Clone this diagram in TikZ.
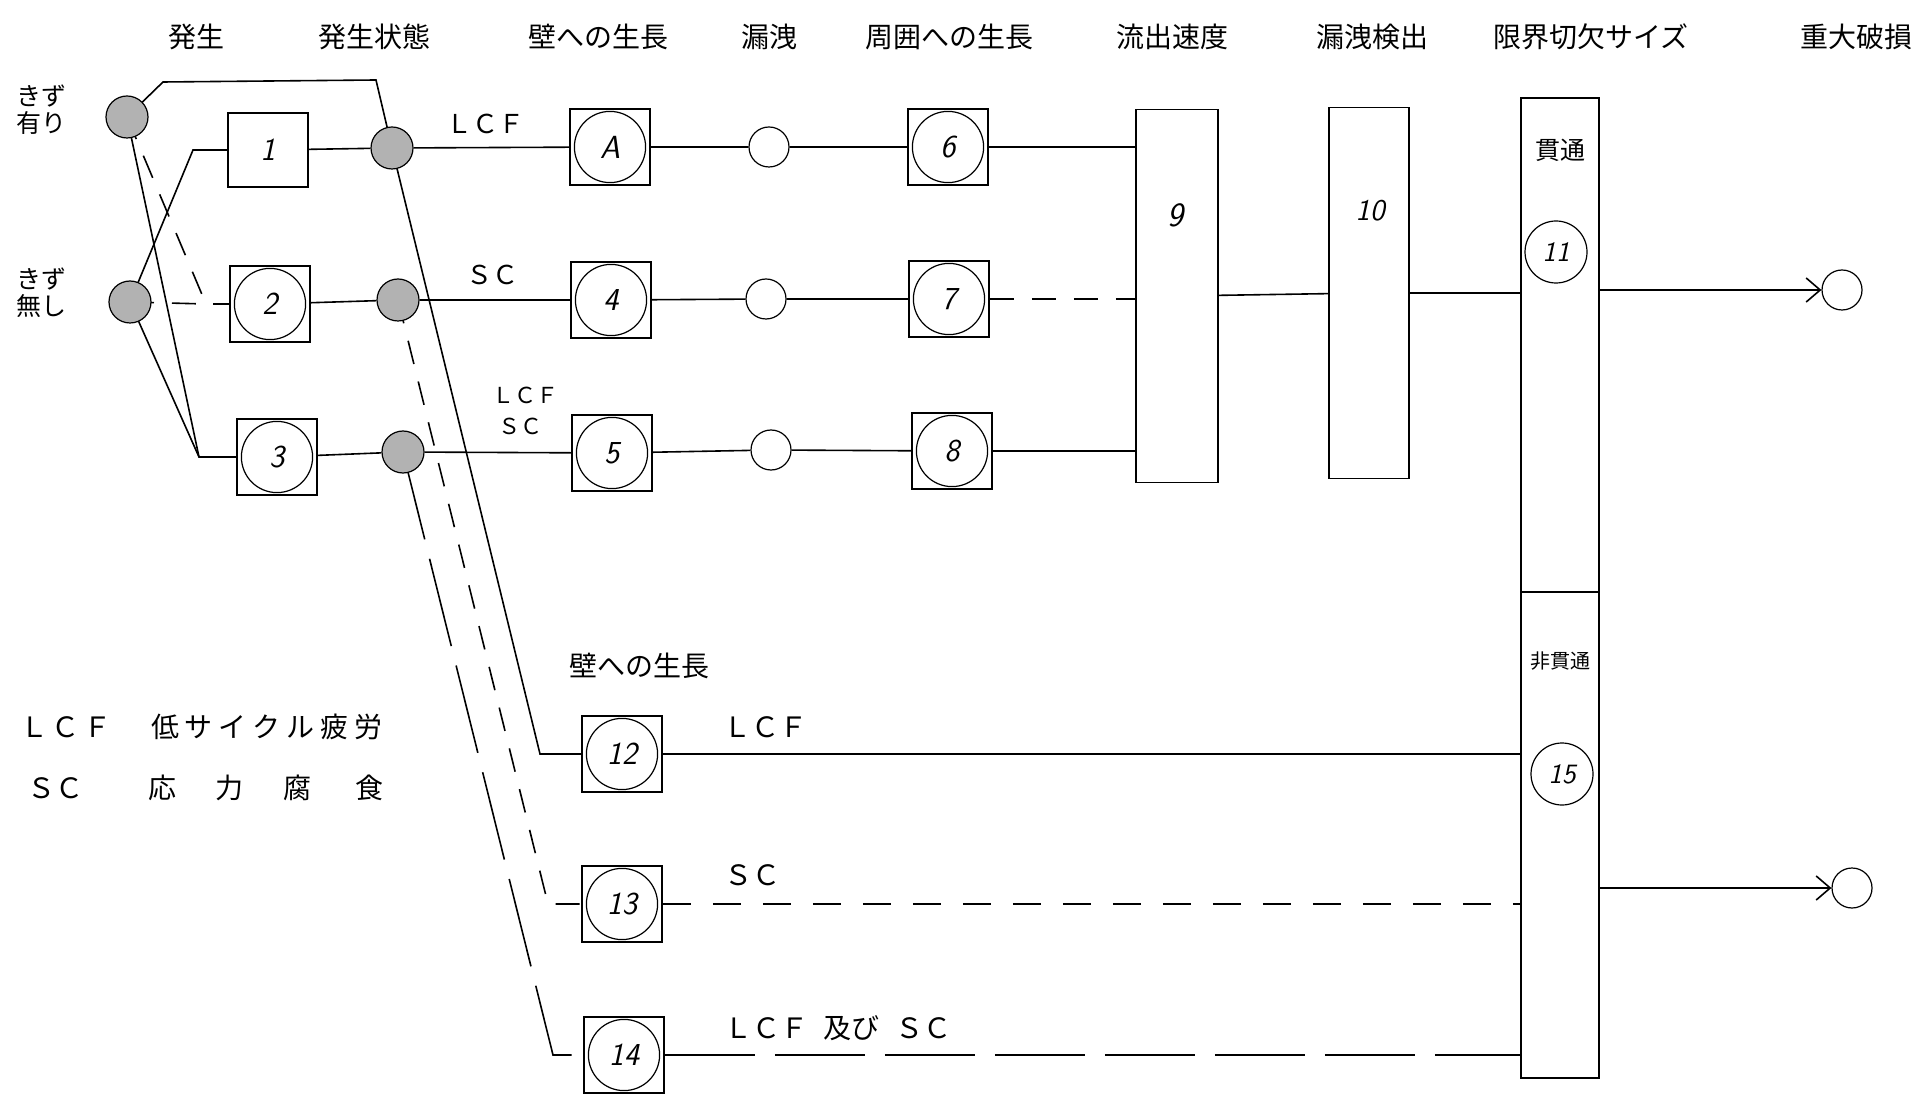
\documentclass[tikz,border=0pt]{standalone}
\usepackage{fontspec}
\setmainfont{Noto Sans CJK JP}
\usetikzlibrary{arrows.meta,backgrounds}
\newcommand{\myfs}[1]{\fontsize{#1}{#1}\selectfont}
\newcommand{\hand}{\sffamily\itshape}
\tikzset{
 ln/.style={line width=0.8pt},
 ball/.style={circle, draw, line width=0.6pt, fill=gray!60, minimum size=21pt, inner sep=0pt},
 ring/.style={circle, draw, line width=0.6pt, fill=white, minimum size=20pt, inner sep=0pt},
 cbox/.style={rectangle, draw, line width=0.9pt, fill=white, minimum width=40pt, minimum height=38pt, inner sep=0pt, font={\hand\myfs{16pt}},
   path picture={\draw[line width=0.6pt] (path picture bounding box.center) circle (17.8pt);}},
 pbox/.style={rectangle, draw, line width=0.9pt, fill=white, minimum width=40pt, minimum height=37pt, inner sep=0pt, font={\hand\myfs{16pt}}},
 tall/.style={rectangle, draw, line width=0.9pt, fill=white, inner sep=0pt},
 cnum/.style={circle, draw, line width=0.6pt, fill=white, minimum size=31pt, inner sep=0pt, font={\hand\myfs{14pt}}},
 hdr/.style={font={\myfs{14pt}}, inner sep=0pt},
 lbl/.style={font={\myfs{14pt}}, inner sep=0pt},
 slbl/.style={font={\myfs{11pt}}, inner sep=0pt},
 side/.style={font={\fontsize{12.5pt}{13.5pt}\selectfont}, align=center, inner sep=0pt},
 numtxt/.style={font={\hand\myfs{17pt}}, inner sep=0pt},
 dsh/.style={dash pattern=on 12pt off 9pt},
 dshb/.style={dash pattern=on 14pt off 11pt},
 ldsh/.style={dash pattern=on 45pt off 10pt},
 arr/.style={-{Straight Barb[length=7pt,width=12pt]}},
}
\begin{document}
\begin{tikzpicture}[x=0.5pt,y=-0.5pt]
\useasboundingbox (0,0) rectangle (1926,1106);

% headers
\node[hdr] (h1) at (196,37) {発生};
\node[hdr] (h2) at (374,37) {発生状態};
\node[hdr] (h3) at (598,37) {壁への生長};
\node[hdr] (h4) at (769,37) {漏洩};
\node[hdr] (h5) at (949,37) {周囲への生長};
\node[hdr] (h6) at (1172,37) {流出速度};
\node[hdr] (h7) at (1372,37) {漏洩検出};
\node[hdr] (h8) at (1591,37) {限界切欠サイズ};
\node[hdr] (h9) at (1856,37) {重大破損};

% side labels
\node[side] (ka) at (42,110) {きず\\有り};
\node[side] (kn) at (42,293) {きず\\無し};

% initial balls
\node[ball] (ballA) at (127,117) {};
\node[ball] (ballN) at (130,302) {};

% occurrence boxes
\node[pbox] (n1) at (268,150) {1};
\node[cbox] (n2) at (270,304) {2};
\node[cbox] (n3) at (277,457) {3};

% state balls
\node[ball] (s1) at (392,148) {};
\node[ball] (s2) at (398,300) {};
\node[ball] (s3) at (403,452) {};

% wall growth
\node[cbox] (nA) at (610,147) {A};
\node[cbox] (n4) at (611,300) {4};
\node[cbox] (n5) at (612,453) {5};

% leak circles
\node[ring] (l1) at (769,147) {};
\node[ring] (l2) at (766,299) {};
\node[ring] (l3) at (771,450) {};

% circumferential growth
\node[cbox] (n6) at (948,147) {6};
\node[cbox] (n7) at (949,299) {7};
\node[cbox] (n8) at (952,451) {8};

% tall boxes
\node[tall, minimum width=41pt, minimum height=186.5pt] (n9) at (1177,296) {};
\node[numtxt] (t9) at (1175,215) {9};
\node[tall, minimum width=40pt, minimum height=185.5pt] (n10) at (1369,293) {};
\node[numtxt, font={\hand\myfs{15pt}}] (t10) at (1370,211) {10};

\node[tall, minimum width=39pt, minimum height=247pt] (lim1) at (1560,345) {};
\node[tall, minimum width=39pt, minimum height=243pt] (lim2) at (1560,835) {};
\node[font={\myfs{12.5pt}}, inner sep=0pt] (kt) at (1560,150) {貫通};
\node[cnum] (c11) at (1556,252) {11};
\node[font={\myfs{10pt}}, inner sep=0pt] (nkt) at (1560,661) {非貫通};
\node[cnum] (c15) at (1562,774) {15};

% outcome circles
\node[ring] (out1) at (1842,290) {};
\node[ring] (out2) at (1852,888) {};

% lower boxes
\node[hdr] (wall) at (639,666) {壁への生長};
\node[cbox] (n12) at (622,754) {12};
\node[cbox] (n13) at (622,904) {13};
\node[cbox] (n14) at (624,1055) {14};

% connector labels
\node[lbl, font={\myfs{13pt}}] (la) at (485,124) {ＬＣＦ};
\node[lbl, font={\myfs{13pt}}] (lb) at (492,275) {ＳＣ};
\node[slbl] (lc) at (525,395) {ＬＣＦ};
\node[slbl] (ld) at (520,426) {ＳＣ};
\node[lbl] (le) at (765,727) {ＬＣＦ};
\node[lbl] (lf) at (752,875) {ＳＣ};
\node[lbl] (lg) at (838,1028) {ＬＣＦ\hspace{8pt}及び\hspace{8pt}ＳＣ};

% legend
\node[lbl] (lg1) at (66,727) {Ｌ\hspace{2pt}Ｃ\hspace{2pt}Ｆ};
\node[lbl] (lg2) at (267,727) {低\hspace{3pt}サ\hspace{3pt}イ\hspace{3pt}ク\hspace{3pt}ル\hspace{3pt}疲\hspace{3pt}労};
\node[lbl] (lg3) at (55,788) {ＳＣ};
\node[lbl] (lg4) at (266,788) {応\hspace{20pt}力\hspace{20pt}腐\hspace{22pt}食};

\begin{scope}[on background layer]
\fill[white] (0,0) rectangle (1926,1106);
\coordinate (a1) at (163,82);
\coordinate (a2) at (376,80);
\coordinate (a3) at (540,754);
\coordinate (b1) at (206,304);
\coordinate (b2) at (199,457);
\coordinate (b3) at (193,150);
\coordinate (d1) at (548,904);
\coordinate (d2) at (553,1055);

\draw[ln] (ballA.center) -- (a1) -- (a2) -- (s1.center) -- (a3) -- (n12);
\draw[ln,dsh] (ballA.center) -- (b1) -- (n2);
\draw[ln,dsh] (ballN.center) -- (b1);
\draw[ln] (ballA.center) -- (b2) -- (n3);
\draw[ln] (ballN.center) -- (b2);
\draw[ln] (ballN.center) -- (b3) -- (n1);

\draw[ln] (n1) -- (s1);
\draw[ln] (n2) -- (s2);
\draw[ln] (n3) -- (s3);

\draw[ln] (s1) -- (nA) -- (l1) -- (n6) -- (n6 -| n9.west);
\draw[ln] (s2) -- (n4) -- (l2) -- (n7);
\draw[ln,dsh] (n7) -- (n7 -| n9.west);
\draw[ln] (s3) -- (n5) -- (l3) -- (n8) -- (n8 -| n9.west);
\draw[ln] (n9) -- (n10);
\draw[ln] (n10) -- (n10 -| lim1.west);
\draw[ln,arr] (out1 -| lim1.east) -- (out1);

\draw[ln,dsh] (s2.center) -- (d1) -- (n13);
\draw[ln,ldsh] (s3.center) -- (d2) -- (n14);
\draw[ln] (n12) -- (n12 -| lim2.west);
\draw[ln,dshb] (n13) -- (n13 -| lim2.west);
\draw[ln,ldsh] (n14) -- (n14 -| lim2.west);
\draw[ln,arr] (out2 -| lim2.east) -- (out2);
\end{scope}
\end{tikzpicture}
\end{document}
